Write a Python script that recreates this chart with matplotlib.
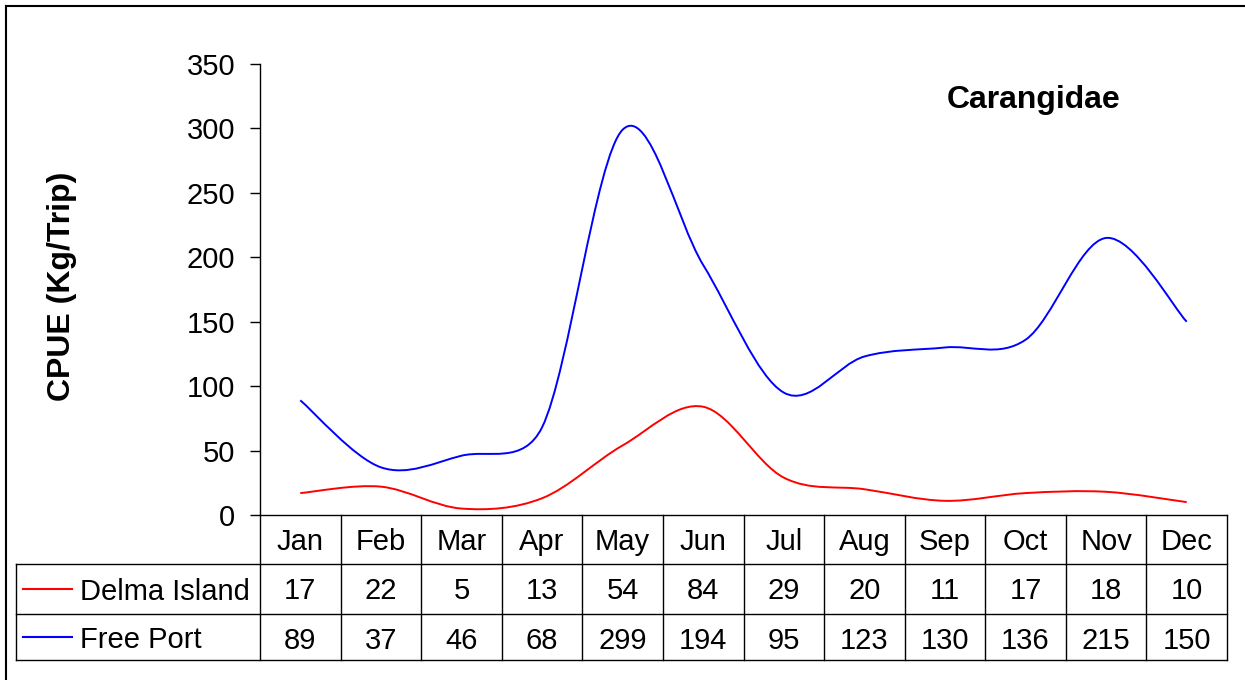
import numpy as np
import matplotlib.pyplot as plt
from matplotlib.path import Path
from matplotlib.patches import PathPatch

months = ["Jan", "Feb", "Mar", "Apr", "May", "Jun",
          "Jul", "Aug", "Sep", "Oct", "Nov", "Dec"]
delma = [17, 22, 5, 13, 54, 84, 29, 20, 11, 17, 18, 10]
free_port = [89, 37, 46, 68, 299, 194, 95, 123, 130, 136, 215, 150]
series_names = ["Delma Island", "Free Port"]
series_colors = ["#ff0000", "#0000ff"]

plt.rcParams['font.family'] = ['Liberation Sans', 'DejaVu Sans']
plt.rcParams['font.size'] = 21

W, H = 1245, 680
fig = plt.figure(figsize=(W / 100, H / 100), dpi=100)

# plot area in pixels
x0, x1 = 260, 1227
y_top, y_bot = 64, 515
ax = fig.add_axes([x0 / W, 1 - y_bot / H, (x1 - x0) / W, (y_bot - y_top) / H])
ymax = 350
colw = (x1 - x0) / len(months)
sx, sy = colw, (y_bot - y_top) / ymax   # pixels per data unit


def smooth_path(vals):
    # Excel style smoothed line: Bezier with arms limited to half the segment
    pts = np.column_stack([np.arange(len(vals)), vals]).astype(float)
    ext = np.vstack([pts[0], pts, pts[-1]])
    scale = np.array([sx, sy])

    def dist(a, b):
        return np.hypot(*((b - a) * scale))

    verts = [pts[0]]
    codes = [Path.MOVETO]
    for i in range(len(pts) - 1):
        p0, p1, p2, p3 = ext[i], ext[i + 1], ext[i + 2], ext[i + 3]
        d02, d12, d13 = dist(p0, p2), dist(p1, p2), dist(p1, p3)
        f1 = 1 / 6 if d02 / 6 < d12 / 2 else d12 / (2 * d02)
        f2 = 1 / 6 if d13 / 6 < d12 / 2 else d12 / (2 * d13)
        verts += [p1 + (p2 - p0) * f1, p2 - (p3 - p1) * f2, p2]
        codes += [Path.CURVE4] * 3
    return Path(verts, codes)


for vals, c in zip([delma, free_port], series_colors):
    ax.add_patch(PathPatch(smooth_path(vals), facecolor="none",
                           edgecolor=c, linewidth=1.4))

ax.set_xlim(-0.5, len(months) - 0.5)
ax.set_ylim(0, ymax)
ax.set_yticks(range(0, ymax + 1, 50))
ax.set_xticks([])
ax.tick_params(axis='y', direction='out', length=7.2, width=1, pad=10.8,
               labelsize=21)
for s in ["top", "right"]:
    ax.spines[s].set_visible(False)
for s in ["left", "bottom"]:
    ax.spines[s].set_linewidth(1)

# overlay in pixel coordinates for table, titles and frame
ov = fig.add_axes([0, 0, 1, 1])
ov.set_xlim(0, W)
ov.set_ylim(H, 0)
ov.axis("off")
ov.patch.set_alpha(0)

ov.plot([6, 6], [6, H], color="black", lw=1.5)
ov.plot([6, W], [6, 6], color="black", lw=1.5)

ov.text(62, 286, "CPUE (Kg/Trip)", rotation=90, ha="center", va="center",
        fontweight="bold", fontsize=23)
ov.text(1034, 100, "Carangidae", ha="center", va="center",
        fontweight="bold", fontsize=23)

rows = [515, 564, 614, 660]
lw = 1.0
for yy in rows[1:]:
    ov.plot([16, x1], [yy, yy], color="black", lw=lw)
ov.plot([16, 16], [rows[1], rows[3]], color="black", lw=lw)
for k in range(len(months) + 1):
    xx = x0 + k * colw
    ov.plot([xx, xx], [rows[0], rows[3]], color="black", lw=lw)

for i, m in enumerate(months):
    cx = x0 + (i + 0.5) * colw
    ov.text(cx, 542, m, ha="center", va="center")
    ov.text(cx, 591, str(delma[i]), ha="center", va="center")
    ov.text(cx, 641, str(free_port[i]), ha="center", va="center")

for r, (name, c) in enumerate(zip(series_names, series_colors)):
    cy = (rows[r + 1] + rows[r + 2]) / 2
    ov.plot([23, 72], [cy, cy], color=c, lw=1.5)
    ov.text(80, cy + 3, name, ha="left", va="center")

fig.savefig("out.png", dpi=100)
